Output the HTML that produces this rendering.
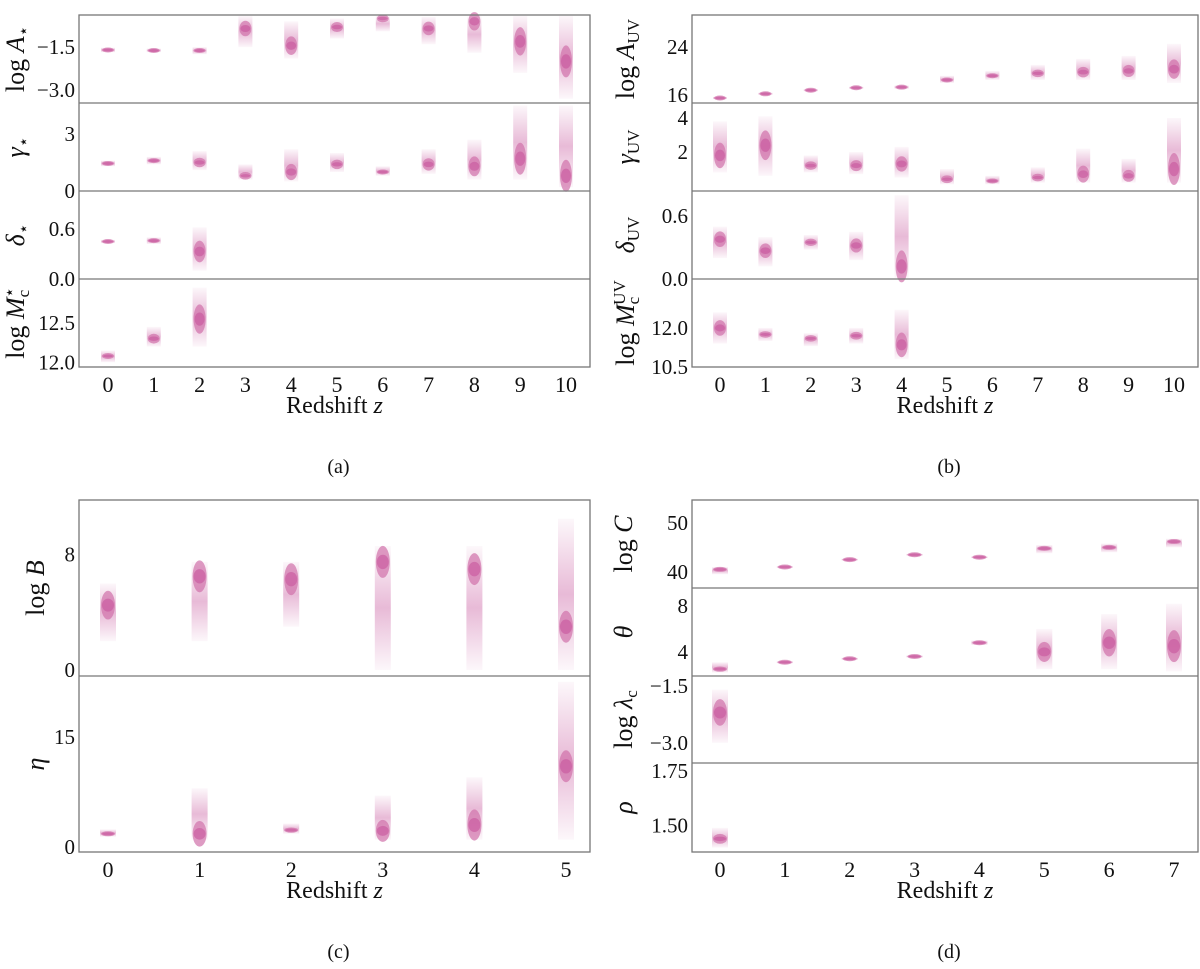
<!DOCTYPE html>
<html><head><meta charset="utf-8">
<style>
body{margin:0;background:#fff;}
svg{display:block;font-family:"Liberation Serif","DejaVu Serif",serif;}
</style></head>
<body>
<svg id="fig" width="1200" height="969" viewBox="0 0 1200 969" xmlns="http://www.w3.org/2000/svg">
<defs>
<linearGradient id="fade" x1="0" y1="0" x2="0" y2="1">
<stop offset="0" stop-color="#cc66a6" stop-opacity="0.05"/>
<stop offset="0.5" stop-color="#cc66a6" stop-opacity="0.45"/>
<stop offset="1" stop-color="#cc66a6" stop-opacity="0.05"/>
</linearGradient>
</defs>
</svg>
<script>
// ---- data: mid value, lower and upper extent of each posterior smear ----
const zA = [0,1,2,3,4,5,6,7,8,9,10];
const aLogA_mid = [-1.6,-1.62,-1.62,-0.85,-1.45,-0.8,-0.5,-0.85,-0.6,-1.3,-2.0];
const aLogA_lo  = [-1.68,-1.68,-1.75,-1.5,-1.9,-1.2,-0.95,-1.4,-1.7,-2.4,-3.3];
const aLogA_hi  = [-1.52,-1.55,-1.5,-0.4,-0.6,-0.5,-0.38,-0.45,-0.38,-0.38,-0.38];
const aGam_mid = [1.45,1.6,1.5,0.8,1.0,1.4,1.0,1.4,1.3,1.7,0.8];
const aGam_lo  = [1.3,1.4,1.1,0.6,0.5,1.0,0.8,0.9,0.6,0.6,0.2];
const aGam_hi  = [1.6,1.8,2.1,1.4,2.2,2.0,1.3,2.2,2.7,4.5,4.5];
const aDel_mid = [0.45,0.46,0.33];
const aDel_lo  = [0.43,0.42,0.1];
const aDel_hi  = [0.47,0.5,0.62];
const aMc_mid = [12.08,12.3,12.55];
const aMc_lo  = [12.0,12.2,12.2];
const aMc_hi  = [12.15,12.45,12.95];

const bLogA_mid = [15.5,16.2,16.8,17.2,17.3,18.5,19.2,19.6,19.8,20.0,20.3];
const bLogA_lo  = [15.3,16.0,16.6,17.0,17.0,18.0,18.5,18.5,18.5,18.5,18.0];
const bLogA_hi  = [15.7,16.4,17.0,17.4,17.6,19.2,20.0,21.0,22.0,22.5,24.5];
const bGam_mid = [1.8,2.4,1.2,1.2,1.3,0.4,0.3,0.5,0.7,0.6,1.0];
const bGam_lo  = [0.8,0.6,0.8,0.7,0.5,0.1,0.1,0.2,0.2,0.2,0.2];
const bGam_hi  = [3.8,4.1,1.8,2.0,2.3,1.0,0.6,1.1,2.2,1.6,4.0];
const bDel_mid = [0.38,0.27,0.35,0.32,0.12];
const bDel_lo  = [0.2,0.12,0.28,0.18,0.0];
const bDel_hi  = [0.5,0.4,0.42,0.45,0.8];
const bMc_mid = [12.0,11.75,11.6,11.7,11.35];
const bMc_lo  = [11.4,11.5,11.3,11.4,10.8];
const bMc_hi  = [12.6,12.0,11.8,12.0,12.7];

const cLogB_mid = [4.5,6.5,6.3,7.5,7.0,3.0];
const cLogB_lo  = [2.0,2.0,3.0,0.0,0.0,0.0];
const cLogB_hi  = [6.0,7.5,7.5,8.6,8.6,10.5];
const cEta_mid = [1.8,1.8,2.3,2.2,3.0,11.0];
const cEta_lo  = [1.4,1.0,1.8,1.0,1.0,1.0];
const cEta_hi  = [2.4,8.0,3.2,7.0,9.5,22.5];

const dLogC_mid = [40.5,41.0,42.5,43.5,43.0,44.8,45.0,46.2];
const dLogC_lo  = [39.5,40.8,42.3,43.3,42.8,43.8,44.0,45.0];
const dLogC_hi  = [41.0,41.2,42.7,43.7,43.2,45.5,45.8,46.8];
const dTh_mid = [2.5,3.1,3.4,3.6,4.8,4.0,4.8,4.5];
const dTh_lo  = [2.2,3.0,3.3,3.5,4.6,2.5,2.5,2.3];
const dTh_hi  = [3.1,3.2,3.5,3.7,5.0,6.0,7.3,8.2];
const dLam_mid = [-2.2];
const dLam_lo  = [-3.0];
const dLam_hi  = [-1.6];
const dRho_mid = [1.44];
const dRho_lo  = [1.4];
const dRho_hi  = [1.49];

const ticksA = [[-1.5,-3.0],[3,0],[0.6,0.0],[12.5,12.0]];
const ticksB = [[24,16],[4,2],[0.6,0.0],[12.0,10.5]];
const ticksC = [[8,0],[15,0]];
const ticksD = [[50,40],[8,4],[-1.5,-3.0],[1.75,1.50]];

const NS = 'http://www.w3.org/2000/svg';
const svg = document.getElementById('fig');
function mk(tag, attrs, parent){ const e=document.createElementNS(NS,tag); for(const k in attrs) e.setAttribute(k,attrs[k]); (parent||svg).appendChild(e); return e; }
function fmt(v,dec){ const s=Math.abs(v).toFixed(dec); return (v<0?'\u2212':'')+s; }

const panels = [
 {name:'panel-a', bx0:79, bx1:590, px0:108, px1:566, nz:10, by:[15,103,191,279,367], lblX:24, cap:'(a)', capY:473,
  subs:[
   {n:'log-a-star', dom:[-3.45,-0.38], ticks:ticksA[0], dec:1, lab:[['log ','n'],['A','i'],['\u22C6','sub']], mid:aLogA_mid, lo:aLogA_lo, hi:aLogA_hi},
   {n:'gamma-star', dom:[0,4.63], ticks:ticksA[1], dec:0, lab:[['\u03B3','i'],['\u22C6','sub']], mid:aGam_mid, lo:aGam_lo, hi:aGam_hi},
   {n:'delta-star', dom:[0,1.056], ticks:ticksA[2], dec:1, lab:[['\u03B4','i'],['\u22C6','sub']], mid:aDel_mid, lo:aDel_lo, hi:aDel_hi},
   {n:'log-mc-star', dom:[11.94,13.06], ticks:ticksA[3], dec:1, lab:[['log ','n'],['M','i'],['c','sub'],['\u22C6','sup']], mid:aMc_mid, lo:aMc_lo, hi:aMc_hi}]},
 {name:'panel-b', bx0:692, bx1:1198, px0:720, px1:1174, nz:10, by:[15,103,191,279,367], lblX:634, cap:'(b)', capY:473,
  subs:[
   {n:'log-a-uv', dom:[14.67,29.3], ticks:ticksB[0], dec:0, lab:[['log ','n'],['A','i'],['UV','sub']], mid:bLogA_mid, lo:bLogA_lo, hi:bLogA_hi},
   {n:'gamma-uv', dom:[-0.29,4.88], ticks:ticksB[1], dec:0, lab:[['\u03B3','i'],['UV','sub']], mid:bGam_mid, lo:bGam_lo, hi:bGam_hi},
   {n:'delta-uv', dom:[0,0.84], ticks:ticksB[2], dec:1, lab:[['\u03B4','i'],['UV','sub']], mid:bDel_mid, lo:bDel_lo, hi:bDel_hi},
   {n:'log-mc-uv', dom:[10.5,13.88], ticks:ticksB[3], dec:1, lab:[['log ','n'],['M','i'],['c','sub'],['UV','sup']], mid:bMc_mid, lo:bMc_lo, hi:bMc_hi}]},
 {name:'panel-c', bx0:79, bx1:590, px0:108, px1:566, nz:5, by:[500,676,852], lblX:44, cap:'(c)', capY:958,
  subs:[
   {n:'log-b', dom:[-0.42,11.8], ticks:ticksC[0], dec:0, lab:[['log ','n'],['B','i']], mid:cLogB_mid, lo:cLogB_lo, hi:cLogB_hi},
   {n:'eta', dom:[-0.68,23.3], ticks:ticksC[1], dec:0, lab:[['\u03B7','i']], mid:cEta_mid, lo:cEta_lo, hi:cEta_hi}]},
 {name:'panel-d', bx0:692, bx1:1198, px0:720, px1:1174, nz:7, by:[500,588,676,763,852], lblX:632, cap:'(d)', capY:958,
  subs:[
   {n:'log-c', dom:[36.7,54.7], ticks:ticksD[0], dec:0, lab:[['log ','n'],['C','i']], mid:dLogC_mid, lo:dLogC_lo, hi:dLogC_hi},
   {n:'theta', dom:[1.9,9.57], ticks:ticksD[1], dec:0, lab:[['\u03B8','i']], mid:dTh_mid, lo:dTh_lo, hi:dTh_hi},
   {n:'log-lambda-c', dom:[-3.53,-1.24], ticks:ticksD[2], dec:1, lab:[['log ','n'],['\u03BB','i'],['c','sub']], mid:dLam_mid, lo:dLam_lo, hi:dLam_hi},
   {n:'rho', dom:[1.38,1.786], ticks:ticksD[3], dec:2, lab:[['\u03C1','i']], mid:dRho_mid, lo:dRho_lo, hi:dRho_hi}]}
];

panels.forEach(p=>{
  const g = mk('g',{});
  
  
  const xs = z => p.px0 + (p.px1-p.px0)*z/p.nz;
  const w = p.nz>7 ? 14 : 16;
  p.subs.forEach((s,k)=>{
    const y0=p.by[k], y1=p.by[k+1];
    const ys = v => y1 - (v-s.dom[0])/(s.dom[1]-s.dom[0])*(y1-y0);
    const sg = mk('g',{},g);
    
    
    s.mid.forEach((m,i)=>{
      const yt=Math.max(y0+1,ys(s.hi[i])), yb=Math.min(y1-1,ys(s.lo[i])), ym=ys(m);
      const r = mk('rect',{x:xs(i)-w/2, y:yt, width:w, height:Math.max(2,yb-yt), fill:'url(#fade)'},sg);
      
      
      const ry = Math.max(2.5, Math.min(16,(yb-yt)*0.25));
      const e = mk('ellipse',{cx:xs(i), cy:ym, rx:w/2-1, ry:ry, fill:'#d070aa', 'fill-opacity':0.7},sg);
      
      
      const e2 = mk('ellipse',{cx:xs(i), cy:ym, rx:w/2-2, ry:Math.max(1.5,ry*0.45), fill:'#c8559c', 'fill-opacity':0.6},sg);
      
      
    });
    s.ticks.forEach(t=>{
      const tx = mk('text',{x:p.bx0-4, y:ys(t)+7, 'text-anchor':'end', 'font-size':21, fill:'#111'},g);
      tx.textContent = fmt(t,s.dec);
      
      
    });
    const lx=p.lblX, ly=(y0+y1)/2;
    const lt = mk('text',{x:0,y:0,'text-anchor':'middle','font-size':26,fill:'#111',transform:`translate(${lx},${ly}) rotate(-90)`},g);
    
    
    s.lab.forEach(([txt,st])=>{
      const ts = mk('tspan',{},lt);
      ts.textContent = txt;
      if(st==='i') ts.setAttribute('font-style','italic');
      if(st==='sub'){ ts.setAttribute('font-size',17); ts.setAttribute('dy',5); }
      if(st==='sup'){ ts.setAttribute('font-size',17); ts.setAttribute('dy',-14); ts.setAttribute('dx',-8); }
    });
    if(k>0){
      const dl = mk('line',{x1:p.bx0,x2:p.bx1,y1:y0,y2:y0,stroke:'#777','stroke-width':1.3},g);
      
      
    }
  });
  const yb = p.by[p.by.length-1];
  const box = mk('rect',{x:p.bx0,y:p.by[0],width:p.bx1-p.bx0,height:yb-p.by[0],fill:'none',stroke:'#777','stroke-width':1.3},g);
  
  
  for(let z=0; z<=p.nz; z++){
    const t = mk('text',{x:xs(z), y:yb+25, 'text-anchor':'middle','font-size':22,fill:'#111'},g);
    t.textContent = z;
    
    
  }
  const xl = mk('text',{x:(p.bx0+p.bx1)/2, y:yb+46,'text-anchor':'middle','font-size':24,fill:'#111'},g);
  
  
  const a1 = mk('tspan',{},xl); a1.textContent='Redshift ';
  const a2 = mk('tspan',{'font-style':'italic'},xl); a2.textContent='z';
  const cap = mk('text',{x:(p.bx0+p.bx1)/2+4, y:p.capY,'text-anchor':'middle','font-size':20,fill:'#111'},g);
  cap.textContent = p.cap;
  
  
});
</script>
</body></html>
